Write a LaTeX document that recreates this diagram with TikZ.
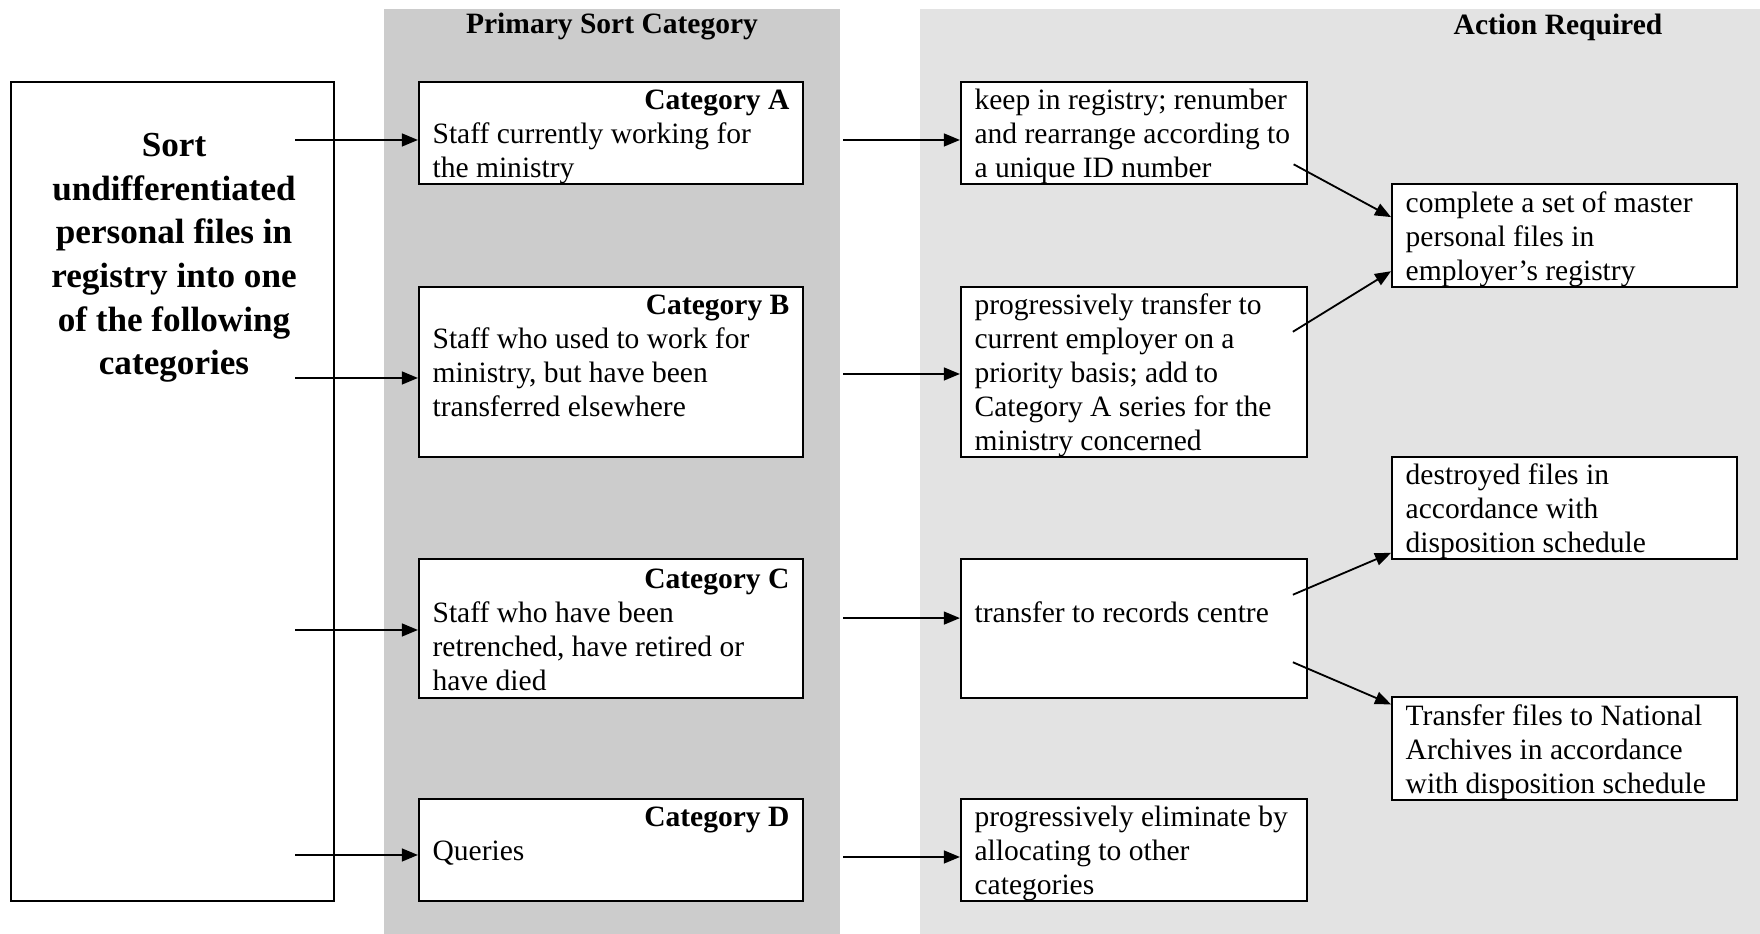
\documentclass[tikz,border=0pt]{standalone}
\usepackage{fontspec}
\setmainfont{Liberation Serif}
\usetikzlibrary{arrows.meta,positioning}
\newcommand{\cattitle}[1]{\makebox[\linewidth][r]{\textbf{Category #1}}}

\begin{document}
\begin{tikzpicture}[every node/.style={font=\fontsize{10.5}{12.1}\selectfont},
  box/.style={draw,fill=white,line width=0.75pt,inner xsep=0.17cm,inner ysep=0pt,align=flush left,
    execute at begin node=\rule{0pt}{9.9pt},execute at end node=\rule[-2.2pt]{0pt}{0pt}},
  catbox/.style={box,text width=4.46cm},
  actbox/.style={box,text width=3.985cm},
  resbox/.style={box,text width=3.97cm},
  head/.style={font=\fontsize{10.5}{12.1}\bfseries},
  arr/.style={-{Triangle[length=0.2cm,width=0.16cm]},line width=0.65pt}]
  \useasboundingbox (0,0) rectangle (22,11.675);
  \fill[black!20] (4.8,0) rectangle (10.5,11.5625);
  \fill[black!11] (11.5,0) rectangle (22,11.5625);
  \node[head] (hsort) at (7.65,11.3375) {Primary Sort Category};
  \node[head] (hact) at (19.475,11.3375) {Action Required};
  \node[draw,fill=white,line width=0.75pt,minimum width=4.0375cm,minimum height=10.2375cm] (sortbox) at (2.156,5.531) {};
  \node[font=\fontsize{12.5}{15.5}\bfseries,align=center] (sorttext) at (2.175,8.45) {Sort\\undifferentiated\\personal files in\\registry into one\\of the following\\categories};
  \node[catbox,minimum height=1.275cm] (catA) at (7.6375,10.0125) {\cattitle{A}\\Staff currently working for\\the ministry};
  \node[catbox,minimum height=2.125cm] (catB) at (7.6375,7.025) {\cattitle{B}\\Staff who used to work for\\ministry, but have been\\transferred elsewhere\\\mbox{}};
  \node[catbox,minimum height=1.7375cm] (catC) at (7.6375,3.81875) {\cattitle{C}\\Staff who have been\\retrenched, have retired or\\have died};
  \node[catbox,minimum height=1.275cm] (catD) at (7.6375,1.05) {\cattitle{D}\\Queries\\\mbox{}};
  \node[actbox,minimum height=1.275cm] (keep) at (14.175,10.0125) {keep in registry; renumber\\and rearrange according to\\a unique ID number};
  \node[actbox,minimum height=2.125cm] (prog) at (14.175,7.025) {progressively transfer to\\current employer on a\\priority basis; add to\\Category A series for the\\ministry concerned};
  \node[actbox,minimum height=1.7375cm] (rec) at (14.175,3.81875) {\mbox{}\\transfer to records centre\\\mbox{}\\\mbox{}};
  \node[actbox,minimum height=1.275cm] (elim) at (14.175,1.05) {progressively eliminate by\\allocating to other\\categories};
  \node[resbox,minimum height=1.2875cm] (complete) at (19.556,8.73125) {complete a set of master\\personal files in\\employer's registry};
  \node[resbox,minimum height=1.275cm] (destroyed) at (19.556,5.325) {destroyed files in\\accordance with\\disposition schedule};
  \node[resbox,minimum height=1.2625cm] (national) at (19.556,2.31875) {Transfer files to National\\Archives in accordance\\with disposition schedule};
  \coordinate (inA) at (3.6875,9.925);
  \coordinate (inB) at (3.6875,6.95);
  \coordinate (inC) at (3.6875,3.8);
  \coordinate (inD) at (3.6875,0.9875);
  \draw[arr] (inA) -- (catA.west |- inA);
  \draw[arr] (inB) -- (catB.west |- inB);
  \draw[arr] (inC) -- (catC.west |- inC);
  \draw[arr] (inD) -- (catD.west |- inD);
  \draw[arr] ([xshift=0.49cm,yshift=-0.0875cm]catA.east) -- ([yshift=-0.0875cm]keep.west);
  \draw[arr] ([xshift=0.49cm,yshift=-0.025cm]catB.east) -- ([yshift=-0.025cm]prog.west);
  \draw[arr] ([xshift=0.49cm,yshift=0.13cm]catC.east) -- ([yshift=0.13cm]rec.west);
  \draw[arr] ([xshift=0.49cm,yshift=-0.0875cm]catD.east) -- ([yshift=-0.0875cm]elim.west);
  \draw[arr] ([xshift=-0.18cm,yshift=0.26cm]keep.south east) -- ([yshift=0.23cm]complete.west);
  \draw[arr] ([xshift=-0.19cm,yshift=-0.575cm]prog.north east) -- ([yshift=0.21cm]complete.south west);
  \draw[arr] ([xshift=-0.19cm,yshift=-0.46cm]rec.north east) -- ([yshift=0.09cm]destroyed.south west);
  \draw[arr] ([xshift=-0.19cm,yshift=0.46cm]rec.south east) -- ([yshift=-0.1cm]national.north west);
\end{tikzpicture}
\end{document}
